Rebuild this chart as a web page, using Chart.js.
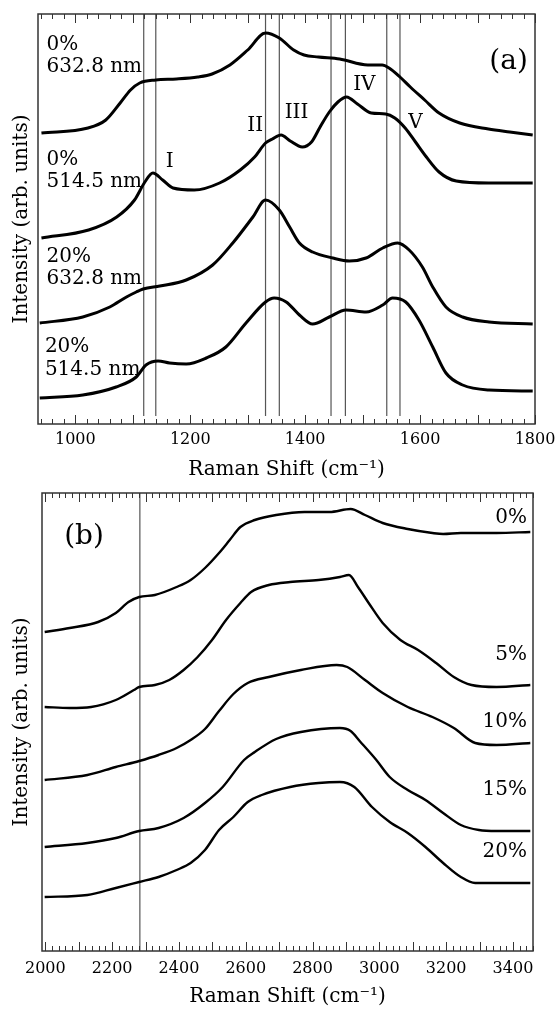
<!DOCTYPE html>
<html>
<head>
<meta charset="utf-8">
<script src="https://cdn.jsdelivr.net/npm/chart.js@4.4.1/dist/chart.umd.min.js"></script>
<style>
  html, body { margin: 0; padding: 0; background: #fff; }
  #wrap { position: relative; width: 556px; height: 1012px; overflow: hidden; }
  canvas { position: absolute; left: 0; }
  #chartA { top: 0; }
  #chartB { top: 480px; }
</style>
</head>
<body>
<div id="wrap">
  <canvas id="chartA" width="556" height="490"></canvas>
  <canvas id="chartB" width="556" height="532"></canvas>
</div>
<script>
// tick labels
const ticksA = [1000, 1200, 1400, 1600, 1800];
const ticksB = [2000, 2200, 2400, 2600, 2800, 3000, 3200, 3400];

// marked band positions (cm-1)
const peaksA = [1119, 1140, 1331, 1355, 1445, 1470, 1542, 1565];
const peaksB = [2283];

// panel (a) spectra, [shift, intensity] (offset stacked, arb. units)
const a0_632 = [[941,291],[1022,296],[1053,304],[1078,321],[1096,334],[1112,341],[1140,344],[1176,345],[1213,347],[1238,350],[1269,359],[1300,374],[1331,391],[1355,386],[1380,374],[1398,369],[1423,367],[1460,365],[1509,359],[1534,359],[1546,356],[1565,347],[1583,337],[1608,324],[1633,311],[1669,301],[1719,295],[1756,292],[1796,289]];
const a0_514 = [[941,186],[1023,194],[1072,207],[1103,224],[1121,242],[1135,251],[1152,244],[1170,236],[1207,234],[1251,241],[1287,254],[1312,267],[1331,281],[1343,285],[1358,289],[1374,283],[1395,277],[1411,282],[1426,297],[1442,312],[1457,322],[1472,327],[1491,320],[1515,311],[1540,310],[1556,306],[1574,296],[1592,282],[1611,267],[1633,252],[1663,243],[1719,241],[1796,241]];
const a20_632 = [[938,101],[1013,107],[1060,117],[1089,127],[1106,132],[1118,135],[1147,138],[1193,144],[1239,159],[1274,181],[1309,207],[1331,224],[1355,214],[1373,197],[1390,181],[1413,172],[1448,166],[1477,163],[1506,166],[1535,176],[1561,181],[1581,174],[1604,157],[1622,137],[1645,117],[1674,107],[1720,102],[1796,100]];
const a20_514 = [[938,26],[1013,29],[1071,37],[1106,47],[1123,59],[1144,63],[1164,61],[1193,60],[1228,66],[1262,77],[1297,101],[1331,122],[1346,126],[1367,122],[1390,109],[1413,100],[1442,107],[1471,114],[1506,112],[1535,119],[1552,126],[1575,122],[1598,104],[1622,77],[1645,51],[1674,39],[1720,34],[1796,33]];

// panel (b) spectra
const b0 = [[1998,319],[2073,323],[2158,329],[2211,338],[2249,349],[2281,354],[2328,356],[2393,364],[2435,371],[2478,383],[2520,398],[2552,411],[2584,424],[2627,431],[2691,436],[2776,439],[2851,439],[2914,442],[2957,436],[3010,428],[3085,422],[3159,418],[3191,417],[3244,418],[3351,418],[3452,419]];
const b5 = [[1998,244],[2073,243],[2137,244],[2211,251],[2265,261],[2281,264],[2328,266],[2371,271],[2414,281],[2456,294],[2499,311],[2541,331],[2584,348],[2616,359],[2669,366],[2733,369],[2818,371],[2882,374],[2909,376],[2936,364],[2968,348],[3010,328],[3063,311],[3116,301],[3170,288],[3223,274],[3276,266],[3351,264],[3452,266]];
const b10 = [[1998,171],[2126,176],[2211,184],[2281,190],[2339,196],[2393,203],[2435,211],[2478,222],[2520,240],[2563,257],[2606,268],[2669,274],[2765,281],[2872,286],[2904,284],[2957,271],[3010,258],[3085,244],[3159,234],[3223,223],[3287,208],[3351,206],[3452,208]];
const b15 = [[1998,104],[2126,108],[2211,113],[2281,120],[2339,123],[2414,133],[2478,148],[2531,164],[2595,191],[2627,199],[2691,212],[2765,219],[2882,223],[2914,220],[2941,210],[2991,191],[3031,174],[3085,161],[3138,151],[3191,138],[3244,126],[3298,121],[3351,120],[3452,120]];
const b20 = [[1998,54],[2126,56],[2211,63],[2281,69],[2339,74],[2393,81],[2435,88],[2478,101],[2520,121],[2563,134],[2606,149],[2648,156],[2733,164],[2818,168],[2882,169],[2925,164],[2978,144],[3031,129],[3085,118],[3138,104],[3191,88],[3244,74],[3287,68],[3351,68],[3452,68]];

// text placed at data coordinates
const notesA = [
    {text: '0%', x: 950, y: 379},
    {text: '632.8 nm', x: 950, y: 357},
    {text: '0%', x: 950, y: 264},
    {text: '514.5 nm', x: 950, y: 242},
    {text: '20%', x: 950, y: 167},
    {text: '632.8 nm', x: 950, y: 145},
    {text: '20%', x: 947, y: 77},
    {text: '514.5 nm', x: 947, y: 54},
    {text: 'I', x: 1164, y: 262, align: 'center'},
    {text: 'II', x: 1313, y: 298, align: 'center'},
    {text: 'III', x: 1385, y: 311, align: 'center'},
    {text: 'IV', x: 1503, y: 339, align: 'center'},
    {text: 'V', x: 1592, y: 301, align: 'center'},
    {text: '(a)', x: 1754, y: 362, align: 'center', size: 28}
];
const notesB = [
    {text: '0%', x: 3442, y: 433, align: 'right'},
    {text: '5%', x: 3442, y: 296, align: 'right'},
    {text: '10%', x: 3442, y: 229, align: 'right'},
    {text: '15%', x: 3442, y: 161, align: 'right'},
    {text: '20%', x: 3442, y: 99, align: 'right'},
    {text: '(b)', x: 2116, y: 414, align: 'center', size: 28}
];

Chart.defaults.font.family = "'DejaVu Serif', serif";
Chart.defaults.color = '#000';

const toXY = function (pairs) {
    return pairs.map(p => ({x: p[0], y: p[1]}));
};

// box around the plot with inward ticks on top and bottom
const framePlugin = {
    id: 'frame',
    afterDatasetsDraw(chart, args, opts) {
        const {ctx, chartArea: {left, right, top, bottom}, scales: {x}} = chart;
        ctx.save();
        ctx.strokeStyle = '#333';
        ctx.lineWidth = 1;
        const start = Math.ceil(x.min / opts.minor) * opts.minor;
        for (let v = start; v <= x.max; v += opts.minor) {
            const px = Math.round(x.getPixelForValue(v)) + 0.5;
            const len = v % opts.major === 0 ? 9 : 5;
            ctx.beginPath();
            ctx.moveTo(px, bottom);
            ctx.lineTo(px, bottom - len);
            ctx.moveTo(px, top);
            ctx.lineTo(px, top + len);
            ctx.stroke();
        }
        ctx.lineWidth = 1.5;
        ctx.strokeRect(left, top, right - left, bottom - top);
        ctx.restore();
    }
};

const notePlugin = {
    id: 'notes',
    afterDatasetsDraw(chart, args, opts) {
        const {ctx, scales: {x, y}} = chart;
        ctx.save();
        ctx.fillStyle = '#000';
        ctx.textBaseline = 'middle';
        opts.items.forEach(function (n) {
            ctx.font = (n.size || 20) + "px 'DejaVu Serif'";
            ctx.textAlign = n.align || 'left';
            ctx.fillText(n.text, x.getPixelForValue(n.x), y.getPixelForValue(n.y));
        });
        ctx.restore();
    }
};

const makePanel = function (id, cfg) {
    const datasets = cfg.series.map(s => ({
        data: toXY(s),
        borderColor: '#000',
        borderWidth: cfg.lineWidth,
        pointRadius: 0,
        cubicInterpolationMode: 'monotone',
        fill: false
    }));
    cfg.peaks.forEach(function (p) {
        datasets.push({
            data: [{x: p, y: cfg.lineLow}, {x: p, y: cfg.yMax}],
            borderColor: '#555',
            borderWidth: 1.2,
            pointRadius: 0
        });
    });

    return new Chart(document.getElementById(id), {
        type: 'line',
        data: {datasets: datasets},
        plugins: [framePlugin, notePlugin],
        options: {
            responsive: false,
            animation: false,
            layout: {padding: {top: cfg.padTop, right: cfg.padRight, left: 0, bottom: 0}},
            plugins: {
                legend: {display: false},
                tooltip: {enabled: false},
                frame: {minor: 20, major: 100},
                notes: {items: cfg.notes}
            },
            scales: {
                x: {
                    type: 'linear',
                    min: cfg.xMin,
                    max: cfg.xMax,
                    afterBuildTicks(scale) { scale.ticks = cfg.ticks.map(v => ({value: v})); },
                    ticks: {
                        callback: v => String(v),
                        padding: 0,
                        autoSkip: false,
                        maxRotation: 0,
                        font: {size: 16, lineHeight: cfg.tickLine}
                    },
                    grid: {display: false, drawTicks: false},
                    border: {display: false},
                    title: {
                        display: true,
                        text: 'Raman Shift (cm\u207B\u00B9)',
                        font: {size: 20},
                        padding: {top: 0, bottom: cfg.titlePad}
                    },
                    afterFit(scale) { scale.height = cfg.xHeight; }
                },
                y: {
                    type: 'linear',
                    min: 0,
                    max: cfg.yMax,
                    ticks: {display: false},
                    grid: {display: false, drawTicks: false},
                    border: {display: false},
                    title: {
                        display: true,
                        text: 'Intensity (arb. units)',
                        font: {size: 20},
                        padding: {top: 10, bottom: 0}
                    },
                    afterFit(scale) { scale.width = cfg.yWidth; }
                }
            }
        }
    });
};

makePanel('chartA', {
    series: [a0_632, a0_514, a20_632, a20_514],
    peaks: peaksA, ticks: ticksA, notes: notesA,
    xMin: 935, xMax: 1800, yMax: 410, lineLow: 8,
    lineWidth: 3, padTop: 14, padRight: 21,
    yWidth: 38, xHeight: 66, tickLine: 2.0, titlePad: 8
});

makePanel('chartB', {
    series: [b0, b5, b10, b15, b20],
    peaks: peaksB, ticks: ticksB, notes: notesB,
    xMin: 1990, xMax: 3460, yMax: 458, lineLow: 0,
    lineWidth: 2.4, padTop: 13, padRight: 23,
    yWidth: 42, xHeight: 61, tickLine: 2.25, titlePad: 3
});
</script>
</body>
</html>
